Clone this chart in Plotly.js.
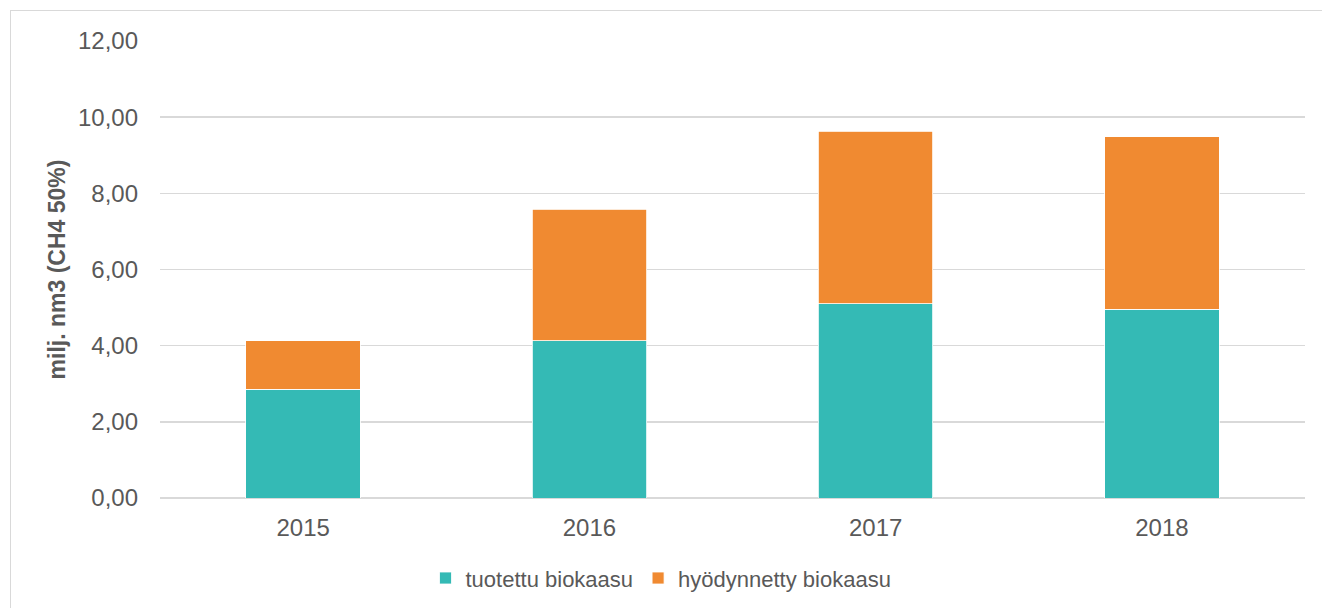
<!DOCTYPE html>
<html>
<head>
<meta charset="utf-8">
<script src="https://cdn.plot.ly/plotly-3.0.1.min.js"></script>
<style>
  html, body { margin: 0; padding: 0; background: #ffffff; overflow: hidden; }
  #wrap { position: relative; width: 1322px; height: 608px; }
  #chart { position: absolute; left: 0; top: 0; width: 1322px; height: 608px; }
  #frame { position: absolute; left: 10px; top: 10px; width: 1330px; height: 620px;
           border: 1.5px solid #d9d9d9; pointer-events: none; box-sizing: border-box; }
</style>
</head>
<body>
<div id="wrap">
  <div id="chart"></div>
  <div id="frame"></div>
</div>
<script>
const years = ["2015", "2016", "2017", "2018"];
const tuotettu = [2.85, 4.13, 5.10, 4.95];
const hyodynnetty = [1.28, 3.45, 4.53, 4.53];
const yTickVals = [0, 2, 4, 6, 8, 10, 12];

const seriesNames = ["tuotettu biokaasu", "hyödynnetty biokaasu"];
const seriesColors = ["#34BAB5", "#F08A31"];

const traces = [tuotettu, hyodynnetty].map((vals, i) => ({
  type: "bar",
  x: years,
  y: vals,
  name: seriesNames[i],
  marker: { color: seriesColors[i], line: { color: "#ffffff", width: 0.8 } },
  width: 0.4,
  hoverinfo: "skip"
}));

const fontFamily = "Arial, 'Liberation Sans', sans-serif";
const layout = {
  width: 1322,
  height: 608,
  barmode: "stack",
  separators: ", ",
  paper_bgcolor: "rgba(0,0,0,0)",
  plot_bgcolor: "#ffffff",
  margin: { l: 160, r: 17, t: 41, b: 110, autoexpand: false },
  font: { family: fontFamily, size: 22, color: "#595959" },
  showlegend: true,
  legend: {
    orientation: "h",
    xref: "container", yref: "container",
    x: 0.5, xanchor: "center",
    y: 0.049, yanchor: "middle",
    font: { family: fontFamily, size: 22, color: "#595959" },
    itemwidth: 30,
    traceorder: "normal",
    bgcolor: "rgba(0,0,0,0)"
  },
  xaxis: {
    type: "category",
    showgrid: false,
    showline: false,
    zeroline: false,
    ticks: "",
    tickfont: { family: fontFamily, size: 24, color: "#595959" },
    ticklabelstandoff: 13
  },
  yaxis: {
    range: [0, 12],
    tickvals: yTickVals,
    tickformat: ".2f",
    showgrid: true,
    gridcolor: "#d9d9d9",
    gridwidth: 1.5,
    zeroline: true,
    zerolinecolor: "#d9d9d9",
    zerolinewidth: 1.5,
    showline: false,
    ticks: "",
    ticklabelstandoff: 21,
    tickfont: { family: fontFamily, size: 24, color: "#595959" },
    title: {
      text: "<b>milj. nm3 (CH4 50%)</b>",
      font: { family: fontFamily, size: 23, color: "#595959" },
      standoff: 5
    },
    fixedrange: true
  }
};

Plotly.newPlot("chart", traces, layout, { displayModeBar: false, staticPlot: true });
</script>
</body>
</html>
